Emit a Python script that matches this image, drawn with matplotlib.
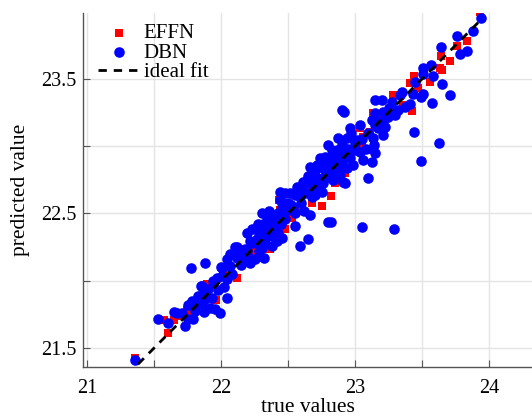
import numpy as np
import matplotlib
matplotlib.use('Agg')
import matplotlib.pyplot as plt
from matplotlib.ticker import MultipleLocator, FuncFormatter

# EFFN predictions (red squares)
effn_true = [21.356, 21.572, 21.647, 21.602, 21.960, 22.117, 21.871, 21.744, 22.177, 22.326,
             22.251, 22.043, 21.893, 21.766, 21.707, 21.654, 21.804, 22.431, 22.751, 22.677,
             22.475, 22.363, 22.199, 22.528, 22.602, 22.677, 22.386, 23.132, 23.110, 23.057,
             23.050, 22.923, 22.849, 23.035, 23.931, 23.834, 23.759, 23.707, 23.640, 23.632,
             23.647, 23.557, 23.438, 23.408, 23.468, 23.281, 23.356, 23.423, 22.819, 22.438,
             23.125, 23.050, 22.878, 22.908, 22.600, 22.700, 22.300, 22.950, 23.200, 22.200,
             22.500, 22.800]
effn_pred = [21.425, 21.709, 21.709, 21.612, 21.858, 22.022, 21.881, 21.784, 22.239, 22.239,
             22.224, 22.060, 21.978, 21.776, 21.739, 21.761, 21.813, 22.597, 22.552, 22.575,
             22.388, 22.239, 22.239, 22.463, 22.545, 22.709, 22.410, 23.246, 23.104, 23.067,
             23.007, 22.799, 22.724, 23.134, 24.000, 23.784, 23.746, 23.634, 23.672, 23.582,
             23.567, 23.478, 23.522, 23.470, 23.433, 23.381, 23.306, 23.261, 22.627, 22.522,
             22.970, 22.985, 22.784, 22.843, 22.620, 22.680, 22.320, 22.930, 23.220, 22.180,
             22.470, 22.820]

# DBN predictions (blue circles)
dbn_true = [21.356, 21.528, 21.602, 21.647, 21.707, 21.729, 21.774, 21.878, 21.751, 21.789,
            21.819, 21.849, 21.871, 21.901, 21.871, 21.916, 21.953, 21.990, 21.968, 21.938,
            22.043, 21.998, 22.102, 22.043, 22.005, 22.065, 22.117, 22.125, 22.005, 22.043,
            21.856, 21.878, 21.826, 21.781, 21.751, 21.856, 21.804, 21.669, 22.192, 22.229,
            22.304, 22.266, 22.229, 22.192, 22.251, 22.319, 22.214, 22.154, 22.662, 22.714,
            22.759, 22.774, 22.722, 22.714, 22.751, 22.699, 22.610, 22.602, 22.640, 22.587,
            22.550, 22.513, 22.475, 22.438, 22.662, 22.550, 22.796, 22.647, 22.587, 22.498,
            22.535, 22.498, 22.453, 22.460, 22.423, 22.304, 22.341, 22.378, 22.423, 22.311,
            22.274, 22.251, 22.289, 22.214, 22.266, 22.326, 22.378, 22.423, 22.416, 22.378,
            22.304, 22.177, 22.140, 22.453, 22.401, 23.147, 23.199, 22.901, 22.916, 22.960,
            23.035, 23.125, 23.147, 23.207, 23.222, 23.207, 23.169, 23.132, 23.140, 23.147,
            23.125, 23.095, 23.057, 23.035, 22.998, 23.013, 22.938, 22.871, 22.901, 22.796,
            22.826, 22.863, 22.886, 22.826, 22.774, 22.737, 22.751, 22.796, 22.849, 22.960,
            22.983, 22.938, 22.871, 22.886, 22.826, 22.774, 22.699, 22.677, 22.789, 22.834,
            22.908, 22.640, 22.662, 22.759, 22.699, 23.438, 23.625, 23.490, 22.819, 23.050,
            23.289, 23.707, 23.572, 23.647, 23.640, 23.759, 23.781, 23.834, 23.878, 23.938,
            23.505, 23.565, 23.505, 23.580, 23.446, 23.505, 23.490, 23.431, 23.349, 23.334,
            23.274, 23.408, 23.371, 23.319, 23.296, 23.244, 22.923,
            22.080, 22.150, 22.120, 22.200, 22.070, 21.980, 21.930, 22.020,
            22.350, 22.400, 22.450, 22.330, 22.480, 22.360, 22.280, 22.440,
            22.550, 22.600, 22.620, 22.570, 22.680, 22.650, 22.700, 22.520,
            22.850, 22.900, 22.950, 23.000, 22.970, 23.050, 23.080, 22.850, 23.100,
            23.180, 23.250, 23.150, 23.220]
dbn_pred = [21.410, 21.716, 21.687, 21.769, 21.761, 21.664, 22.097, 22.134, 21.716, 21.716,
            21.836, 21.963, 21.925, 21.940, 21.769, 21.799, 21.791, 21.761, 22.022, 22.000,
            21.873, 22.104, 22.254, 22.164, 22.097, 22.112, 22.172, 22.209, 22.037, 22.015,
            21.963, 21.866, 21.888, 21.851, 21.821, 21.828, 21.776, 21.761, 22.358, 22.388,
            22.358, 22.313, 22.284, 22.224, 22.164, 22.172, 22.134, 22.164, 22.843, 22.858,
            22.836, 22.769, 22.761, 22.709, 22.657, 22.634, 22.731, 22.687, 22.649, 22.619,
            22.634, 22.649, 22.649, 22.657, 22.485, 22.410, 22.433, 22.313, 22.261, 22.575,
            22.545, 22.522, 22.545, 22.485, 22.500, 22.500, 22.470, 22.448, 22.433, 22.425,
            22.425, 22.388, 22.358, 22.299, 22.284, 22.321, 22.336, 22.358, 22.299, 22.261,
            22.246, 22.239, 22.209, 22.321, 22.396, 23.343, 23.343, 23.269, 23.254, 23.134,
            23.157, 23.194, 23.157, 23.254, 23.209, 23.082, 23.134, 23.060, 23.007, 22.948,
            22.881, 22.761, 22.896, 22.955, 22.970, 23.045, 23.060, 23.060, 23.007, 23.007,
            22.970, 22.970, 22.948, 22.933, 22.918, 22.910, 22.873, 22.873, 22.881, 22.910,
            22.858, 22.836, 22.836, 22.784, 22.806, 22.821, 22.821, 22.784, 22.769, 22.746,
            22.731, 22.746, 22.724, 22.724, 22.687, 23.104, 23.022, 22.888, 22.433, 22.396,
            22.381, 23.381, 23.321, 23.463, 23.739, 23.821, 23.687, 23.709, 23.858, 23.955,
            23.582, 23.604, 23.537, 23.522, 23.478, 23.388, 23.366, 23.388, 23.403, 23.381,
            23.328, 23.313, 23.291, 23.269, 23.231, 23.216, 22.724,
            22.050, 22.120, 22.250, 22.180, 22.200, 21.930, 21.870, 21.950,
            22.400, 22.470, 22.420, 22.280, 22.460, 22.520, 22.220, 22.600,
            22.500, 22.580, 22.520, 22.700, 22.620, 22.780, 22.750, 22.560,
            22.860, 22.880, 22.980, 23.020, 23.100, 23.050, 22.980, 22.930, 23.100,
            23.180, 23.280, 23.250, 23.140]

ideal = [21.3, 23.95]

plt.rcParams['font.family'] = 'Liberation Serif'

fig = plt.figure(figsize=(5.32, 4.16), dpi=100)
ax = fig.add_axes([0.156, 0.118, 0.844, 0.851])

ax.scatter(effn_true, effn_pred, marker='s', s=26, color='#ff0000', linewidths=0, label='EFFN', zorder=2)
ax.scatter(dbn_true, dbn_pred, marker='o', s=58, color='#0000ff', linewidths=0, label='DBN', zorder=3)
ax.plot(ideal, ideal, '--', color='black', lw=2, dashes=(3, 2.5), label='ideal fit', zorder=4)

ax.set_xlim(20.97, 24.32)
ax.set_ylim(21.36, 23.99)

ax.xaxis.set_major_locator(MultipleLocator(0.5))
ax.yaxis.set_major_locator(MultipleLocator(0.5))
ax.xaxis.set_major_formatter(FuncFormatter(lambda v, p: '%d' % round(v) if abs(v - round(v)) < 1e-6 else ''))
ax.yaxis.set_major_formatter(FuncFormatter(lambda v, p: '%.1f' % v if abs(v - round(v)) > 0.1 else ''))

ax.grid(True, color='#e4e4e4', lw=1)
ax.set_axisbelow(True)
for side in ['top', 'right']:
    ax.spines[side].set_visible(False)
for side in ['left', 'bottom']:
    ax.spines[side].set_color('#555555')
    ax.spines[side].set_linewidth(1)
ax.tick_params(direction='in', length=5, color='#555555', labelsize=14.5, labelcolor='black')
ax.tick_params(axis='x', pad=9)
ax.tick_params(axis='y', pad=5)

ax.set_xlabel('true values', fontsize=15.5, labelpad=0)
ax.set_ylabel('predicted value', fontsize=15.5, labelpad=8)

ax.legend(loc='upper left', bbox_to_anchor=(0.005, 1.005), frameon=False, fontsize=15,
          handlelength=2.0, handletextpad=0.2, labelspacing=0.0, borderaxespad=0.2)

fig.savefig('out.png', dpi=100)
